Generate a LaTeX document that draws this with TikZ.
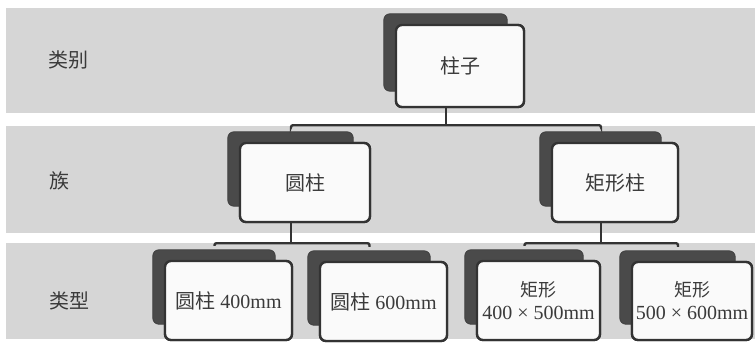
\documentclass[tikz,border=0pt]{standalone}
\usepackage{fontspec}
\setmainfont{Liberation Serif}
\newfontfamily\cjk{Noto Sans CJK SC}
\usetikzlibrary{calc}
\definecolor{bandgray}{HTML}{D6D6D6}
\definecolor{shadowgray}{HTML}{4A4A4A}
\definecolor{edgegray}{HTML}{333333}
\definecolor{textgray}{HTML}{3A3A3A}
\definecolor{boxwhite}{HTML}{FAFAFA}
\tikzset{
  band/.style={fill=bandgray, draw=none},
  frontbox/.style={draw=edgegray, fill=boxwhite, line width=2.4pt, rounded corners=6pt,
    inner sep=0pt, align=center, text=textgray, font=\fontsize{20}{25}\selectfont},
  bigtext/.style={font=\cjk\fontsize{20}{24}\selectfont},
  shadowbox/.style={fill=shadowgray, draw=shadowgray!85!black, line width=0.8pt, rounded corners=6pt},
  conn/.style={draw=edgegray, line width=2.4pt, rounded corners=2pt},
  rowlabel/.style={anchor=west, text=textgray, font=\cjk\fontsize{20}{24}\selectfont, inner sep=0pt}
}
\newcommand{\zh}[1]{{\cjk #1}}
\newcommand{\zhs}[1]{{\cjk\fontsize{18}{22}\selectfont #1}}
\begin{document}
\begin{tikzpicture}[x=1pt,y=-1pt]
\useasboundingbox (0,0) rectangle (755,343);
% bands
\fill[band] (6,8) rectangle (755,113);
\fill[band] (6,126) rectangle (755,233);
\fill[band] (6,243) rectangle (755,339);
% row labels
\node[rowlabel] (l1) at (48,60) {类别};
\node[rowlabel] (l2) at (49,181) {族};
\node[rowlabel] (l3) at (49,301) {类型};
% front boxes (placed, drawn later over shadows)
\path
  node[frontbox, bigtext, minimum width=128pt, minimum height=82pt] (top) at (460,66) {柱子}
  node[frontbox, bigtext, minimum width=130pt, minimum height=79pt] (yz) at (305,182.5) {圆柱}
  node[frontbox, bigtext, minimum width=126pt, minimum height=79pt] (jx) at (615,182.5) {矩形柱}
  node[frontbox, minimum width=127pt, minimum height=79pt] (b1) at (228.5,300.5) {\zh{圆柱} 400mm}
  node[frontbox, minimum width=127pt, minimum height=79pt] (b2) at (383.5,301.5) {\zh{圆柱} 600mm}
  node[frontbox, minimum width=123pt, minimum height=79pt] (b3) at (538.5,300.5) {\zhs{矩形}\\[-2pt]400 × 500mm}
  node[frontbox, minimum width=120pt, minimum height=78pt] (b4) at (692,301) {\zhs{矩形}\\[-2pt]500 × 600mm};
% shadows
\foreach \n in {top,yz,jx,b1,b2,b3,b4}{
  \draw[shadowbox] ([xshift=-11pt,yshift=10pt]\n.north west) rectangle ([xshift=-18pt,yshift=17pt]\n.south east);
}
% redraw front boxes over shadows
\node[frontbox, bigtext, minimum width=128pt, minimum height=82pt] at (top) {柱子};
\node[frontbox, bigtext, minimum width=130pt, minimum height=79pt] at (yz) {圆柱};
\node[frontbox, bigtext, minimum width=126pt, minimum height=79pt] at (jx) {矩形柱};
\node[frontbox, minimum width=127pt, minimum height=79pt] at (b1) {\zh{圆柱} 400mm};
\node[frontbox, minimum width=127pt, minimum height=79pt] at (b2) {\zh{圆柱} 600mm};
\node[frontbox, minimum width=123pt, minimum height=79pt] at (b3) {\zhs{矩形}\\[-2pt]400 × 500mm};
\node[frontbox, minimum width=120pt, minimum height=78pt] at (b4) {\zhs{矩形}\\[-2pt]500 × 600mm};
% connectors
\coordinate (bus1) at ($(top.south)+(-14,17)$);
\coordinate (bus2) at ($(yz.south)+(-14,20)$);
\coordinate (bus3) at ($(jx.south)+(-14,20)$);
\draw[conn] ([xshift=-14pt]top.south) -- (bus1);
\draw[conn] ([xshift=-14pt,yshift=15pt]yz.north) |- (bus1) -| ([xshift=-14pt,yshift=15pt]jx.north);
\draw[conn] ([xshift=-14pt]yz.south) -- (bus2);
\draw[conn] ([xshift=-14pt,yshift=14pt]b1.north) |- (bus2) -| ([xshift=-14pt,yshift=14pt]b2.north);
\draw[conn] ([xshift=-14pt]jx.south) -- (bus3);
\draw[conn] ([xshift=-14pt,yshift=14pt]b3.north) |- (bus3) -| ([xshift=-14pt,yshift=14pt]b4.north);
\end{tikzpicture}
\end{document}
